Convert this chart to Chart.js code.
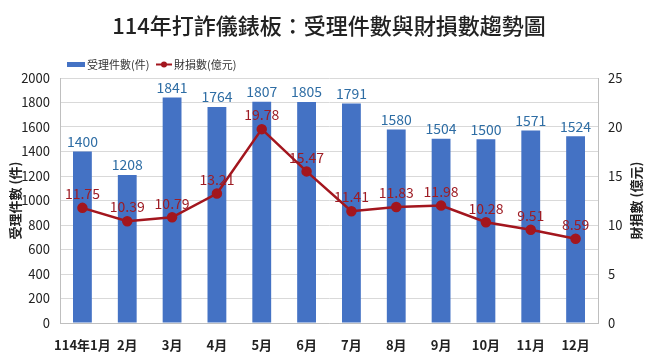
<!DOCTYPE html>
<html>
<head>
<meta charset="utf-8">
<script src="https://cdn.jsdelivr.net/npm/chart.js@4/dist/chart.umd.min.js"></script>
<style>
html,body{margin:0;padding:0;background:#fff;}
#wrap{width:658px;height:359px;position:relative;}
</style>
</head>
<body>
<div id="wrap"><canvas id="c" width="658" height="359"></canvas></div>
<script>
const categories = ['114年1月','2月','3月','4月','5月','6月','7月','8月','9月','10月','11月','12月'];
const cases = [1400,1208,1841,1764,1807,1805,1791,1580,1504,1500,1571,1524];
const losses = [11.75,10.39,10.79,13.21,19.78,15.47,11.41,11.83,11.98,10.28,9.51,8.59];
const leftTicks = [0,200,400,600,800,1000,1200,1400,1600,1800,2000];
const rightTicks = [0,5,10,15,20,25];
const leftTitle = '受理件數 (件)';
const rightTitle = '財損數 (億元)';
const chartTitle = '114年打詐儀錶板：受理件數與財損數趨勢圖';

const FONT = '"Noto Sans CJK TC","Noto Sans",sans-serif';
const BAR_COLOR = '#4472C4';
const LINE_COLOR = '#A3161E';
const BAR_LABEL = '#2E6DA4';
const LINE_LABEL = '#9E1C24';

const overlay = {
  id: 'overlay',
  afterDatasetsDraw(chart) {
    const ctx = chart.ctx;
    ctx.save();
    ctx.font = '14px ' + FONT;
    ctx.fillStyle = BAR_LABEL;
    ctx.textAlign = 'center';
    ctx.textBaseline = 'bottom';
    chart.getDatasetMeta(0).data.forEach((el, i) => {
      ctx.fillText(String(cases[i]), el.x, el.y - 3);
    });
    ctx.font = '14px ' + FONT;
    ctx.fillStyle = LINE_LABEL;
    ctx.textBaseline = 'middle';
    chart.getDatasetMeta(1).data.forEach((el, i) => {
      ctx.fillText(losses[i].toFixed(2), el.x, el.y - 14);
    });
    ctx.restore();
  },
  afterDraw(chart) {
    const ctx = chart.ctx;
    const area = chart.chartArea;
    const midY = (area.top + area.bottom) / 2;
    ctx.save();
    ctx.font = '500 22px ' + FONT;
    ctx.fillStyle = '#222';
    ctx.textAlign = 'center';
    ctx.textBaseline = 'middle';
    ctx.fillText(chartTitle, 329, 26);
    ctx.font = 'bold 13px ' + FONT;
    ctx.fillStyle = '#222';
    [[15, leftTitle], [636, rightTitle]].forEach(([x, t]) => {
      ctx.save();
      ctx.translate(x, midY);
      ctx.rotate(-Math.PI / 2);
      ctx.fillText(t, 0, 0);
      ctx.restore();
    });
    ctx.font = '11px ' + FONT;
    ctx.textAlign = 'left';
    ctx.fillStyle = BAR_COLOR;
    ctx.fillRect(67, 62, 18, 5);
    ctx.fillStyle = '#333';
    ctx.fillText(chart.data.datasets[0].label, 87, 64.5);
    ctx.strokeStyle = LINE_COLOR;
    ctx.lineWidth = 2;
    ctx.beginPath(); ctx.moveTo(156, 64.5); ctx.lineTo(172, 64.5); ctx.stroke();
    ctx.fillStyle = LINE_COLOR;
    ctx.beginPath(); ctx.arc(164, 64.5, 3, 0, Math.PI*2); ctx.fill();
    ctx.fillStyle = '#333';
    ctx.fillText(chart.data.datasets[1].label, 174, 64.5);
    ctx.restore();
  }
};

new Chart(document.getElementById('c'), {
  data: {
    labels: categories,
    datasets: [
      {
        type: 'bar',
        label: '受理件數(件)',
        data: cases,
        yAxisID: 'y',
        backgroundColor: BAR_COLOR,
        barPercentage: 0.42,
        categoryPercentage: 1.0,
        order: 1
      },
      {
        type: 'line',
        label: '財損數(億元)',
        data: losses,
        yAxisID: 'y1',
        borderColor: LINE_COLOR,
        backgroundColor: LINE_COLOR,
        borderWidth: 2.5,
        pointRadius: 4,
        pointBackgroundColor: LINE_COLOR,
        pointBorderColor: LINE_COLOR,
        tension: 0,
        order: 0
      }
    ]
  },
  options: {
    responsive: false,
    animation: false,
    devicePixelRatio: 1,
    layout: { padding: { top: 78, left: 0, right: 0, bottom: 0 } },
    plugins: { legend: { display: false }, title: { display: false }, tooltip: { enabled: false } },
    scales: {
      x: {
        offset: true,
        grid: { display: false },
        border: { display: true, color: '#bfbfbf' },
        ticks: { color: '#222', font: { family: FONT, size: 13, weight: 'bold' }, padding: 6, maxRotation: 0, autoSkip: false },
        afterFit(s) { s.height = 36; }
      },
      y: {
        position: 'left',
        min: 0, max: 2000,
        afterBuildTicks(s) { s.ticks = leftTicks.map(v => ({ value: v })); },
        grid: { color: '#d9d9d9', drawTicks: false },
        border: { display: true, color: '#bfbfbf' },
        ticks: { color: '#222', font: { family: FONT, size: 13 }, padding: 10, callback: v => String(v) },
        afterFit(s) { s.width = 60; }
      },
      y1: {
        position: 'right',
        min: 0, max: 25,
        afterBuildTicks(s) { s.ticks = rightTicks.map(v => ({ value: v })); },
        grid: { display: false, drawTicks: false },
        border: { display: true, color: '#bfbfbf' },
        ticks: { color: '#222', font: { family: FONT, size: 13 }, padding: 10, callback: v => String(v) },
        afterFit(s) { s.width = 60; }
      }
    }
  },
  plugins: [overlay]
});
</script>
</body>
</html>
